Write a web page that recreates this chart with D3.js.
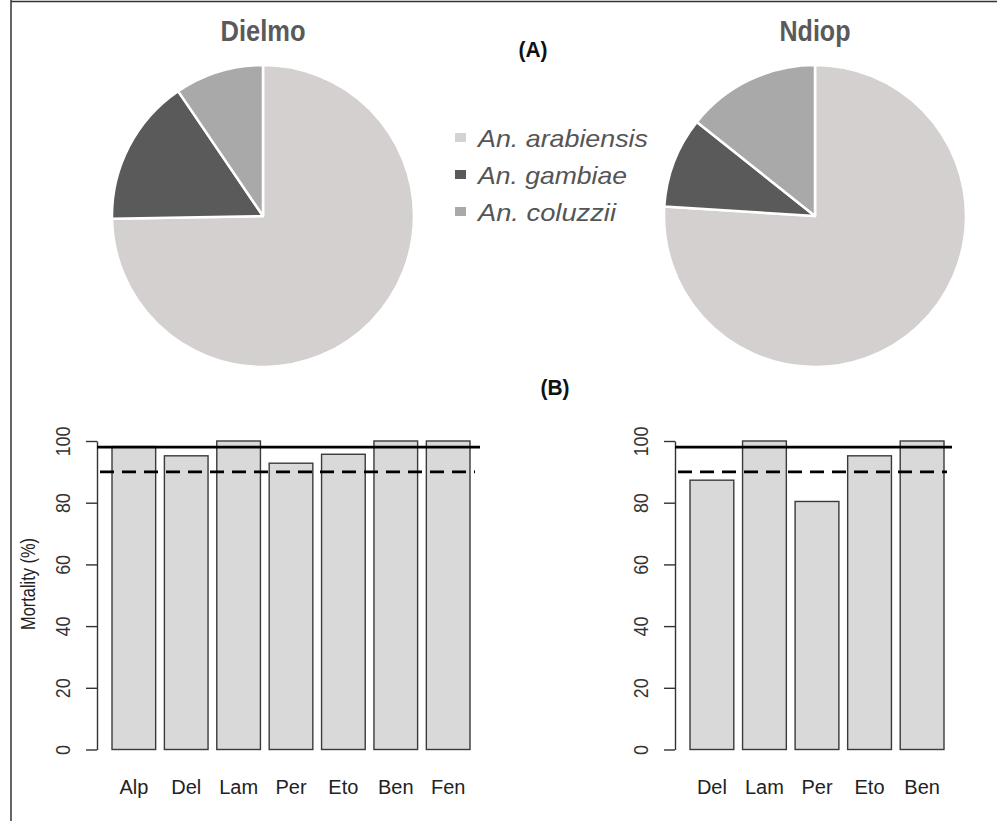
<!DOCTYPE html>
<html>
<head>
<meta charset="utf-8">
<script src="https://cdn.jsdelivr.net/npm/d3@7"></script>
<style>
  html, body { margin: 0; padding: 0; background: #fff; }
  svg { display: block; }
</style>
</head>
<body>
<svg id="chart" width="997" height="821"></svg>
<script>
// ---------- data ----------
const species = ["An. arabiensis", "An. gambiae", "An. coluzzii"];
const speciesColors = ["#d4d0d0", "#5a5a5a", "#a9a9a9"];
const legendColors = ["#d3d3d3", "#5a5a5a", "#a9a9a9"];
const dielmoShares = [74.7, 15.8, 9.5];
const ndiopShares = [76.0, 9.7, 14.3];

const dielmoInsecticides = ["Alp", "Del", "Lam", "Per", "Eto", "Ben", "Fen"];
const dielmoMortality = [98.2, 95.2, 100, 92.8, 95.7, 100, 100];
const ndiopInsecticides = ["Del", "Lam", "Per", "Eto", "Ben"];
const ndiopMortality = [87.3, 100, 80.4, 95.2, 100];

const yTicks = [0, 20, 40, 60, 80, 100];
const susceptibleThreshold = 98;   // solid line
const resistanceThreshold = 90;    // dashed line

// ---------- drawing ----------
const svg = d3.select("#chart");
const FONT = "'Liberation Sans', Arial, Helvetica, sans-serif";

// frame
svg.append("line").attr("x1", 11).attr("x2", 997).attr("y1", 1.5).attr("y2", 1.5)
  .attr("stroke", "#333").attr("stroke-width", 1.5);
svg.append("line").attr("x1", 11).attr("x2", 11).attr("y1", 0).attr("y2", 821)
  .attr("stroke", "#333").attr("stroke-width", 1.5);

// panel labels
svg.append("text").attr("x", 533).attr("y", 57).attr("text-anchor", "middle")
  .attr("font-family", FONT).attr("font-weight", "bold").attr("font-size", 22)
  .attr("fill", "#111").attr("textLength", 29).attr("lengthAdjust", "spacingAndGlyphs").text("(A)");
svg.append("text").attr("x", 555).attr("y", 395).attr("text-anchor", "middle")
  .attr("font-family", FONT).attr("font-weight", "bold").attr("font-size", 22)
  .attr("fill", "#111").attr("textLength", 29).attr("lengthAdjust", "spacingAndGlyphs").text("(B)");

// pies
const pie = d3.pie().sort(null).value(d => d);
const arc = d3.arc().innerRadius(0).outerRadius(151);

function drawPie(cx, cy, shares, title, titleWidth) {
  const g = svg.append("g").attr("transform", `translate(${cx},${cy})`);
  g.selectAll("path").data(pie(shares)).join("path")
    .attr("d", arc)
    .attr("fill", (d, i) => speciesColors[i])
    .attr("stroke", "#fff").attr("stroke-width", 2.5).attr("stroke-linejoin", "round");
  svg.append("text").attr("x", cx).attr("y", 41).attr("text-anchor", "middle")
    .attr("font-family", FONT).attr("font-weight", "bold").attr("font-size", 30)
    .attr("fill", "#5a5a5a")
    .attr("textLength", titleWidth).attr("lengthAdjust", "spacingAndGlyphs")
    .text(title);
}
drawPie(263, 216, dielmoShares, "Dielmo", 85);
drawPie(815, 216, ndiopShares, "Ndiop", 71);

// legend
const legendBaselines = [147, 184, 221];
const legendWidths = [170, 149, 138];
const lg = svg.append("g");
species.forEach((s, i) => {
  lg.append("rect").attr("x", 455).attr("y", legendBaselines[i] - 14)
    .attr("width", 11).attr("height", 9).attr("fill", legendColors[i]);
  lg.append("text").attr("x", 478).attr("y", legendBaselines[i])
    .attr("font-family", FONT).attr("font-style", "italic").attr("font-size", 24)
    .attr("fill", "#555")
    .attr("textLength", legendWidths[i]).attr("lengthAdjust", "spacingAndGlyphs")
    .text(s);
});

// bar charts
const y = d3.scaleLinear().domain([0, 100]).range([749.5, 441]);

function drawBars(cats, vals, axisX, barsLeft, barsRight, lineEnd, showYLabel) {
  const x = d3.scaleBand().domain(cats).range([barsLeft, barsRight])
    .paddingInner(0.2 / 1.2).paddingOuter(0);
  const g = svg.append("g");

  g.selectAll("rect.bar").data(cats).join("rect")
    .attr("class", "bar")
    .attr("x", d => x(d))
    .attr("width", x.bandwidth())
    .attr("y", (d, i) => y(vals[i]))
    .attr("height", (d, i) => y(0) - y(vals[i]))
    .attr("fill", "#d9d9d9")
    .attr("stroke", "#3a3a3a").attr("stroke-width", 1.4);

  // category labels
  g.selectAll("text.cat").data(cats).join("text")
    .attr("class", "cat")
    .attr("x", d => x(d) + x.bandwidth() / 2)
    .attr("y", 794)
    .attr("text-anchor", "middle")
    .attr("font-family", FONT).attr("font-size", 20).attr("fill", "#222")
    .text(d => d);

  // y axis
  const ax = g.append("g").attr("transform", `translate(${axisX},0)`)
    .call(d3.axisLeft(y).tickValues(yTicks).tickSize(11).tickSizeOuter(0));
  ax.select(".domain").attr("stroke", "#333").attr("stroke-width", 1.4);
  ax.selectAll(".tick line").attr("stroke", "#333").attr("stroke-width", 1.4);
  ax.selectAll(".tick text")
    .attr("x", null).attr("dy", "0.36em")
    .attr("transform", "translate(-35,0) rotate(-90) scale(0.85,1)")
    .attr("text-anchor", "middle")
    .attr("font-family", FONT).attr("font-size", 21).attr("fill", "#333");

  // thresholds
  g.append("line").attr("x1", axisX).attr("x2", lineEnd)
    .attr("y1", y(susceptibleThreshold)).attr("y2", y(susceptibleThreshold))
    .attr("stroke", "#000").attr("stroke-width", 2.6);
  g.append("line").attr("x1", axisX + 3).attr("x2", lineEnd - 5)
    .attr("y1", y(resistanceThreshold)).attr("y2", y(resistanceThreshold))
    .attr("stroke", "#000").attr("stroke-width", 2.6)
    .attr("stroke-dasharray", "14,8");

  if (showYLabel) {
    svg.append("text")
      .attr("transform", `translate(35,584) rotate(-90)`)
      .attr("text-anchor", "middle")
      .attr("font-family", FONT).attr("font-size", 20).attr("fill", "#222")
      .attr("textLength", 92).attr("lengthAdjust", "spacingAndGlyphs")
      .text("Mortality (%)");
  }
}

drawBars(dielmoInsecticides, dielmoMortality, 97, 112, 470, 480, true);
drawBars(ndiopInsecticides, ndiopMortality, 675, 690, 944, 952, false);
</script>
</body>
</html>
